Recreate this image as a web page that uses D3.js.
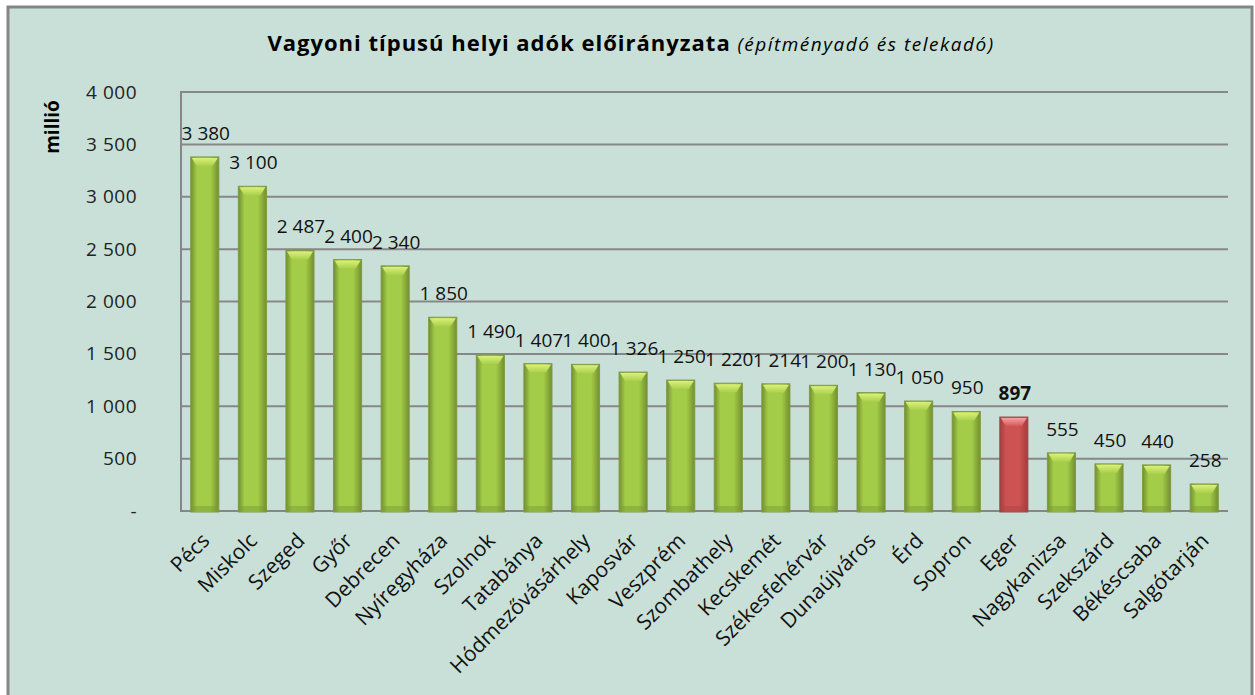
<!DOCTYPE html>
<html>
<head>
<meta charset="utf-8">
<script src="https://cdn.jsdelivr.net/npm/d3@7"></script>
<style>
    body { margin: 0; background: #ffffff; }
    svg { display: block; font-family: "Open Sans", sans-serif; }
</style>
</head>
<body>
<svg width="1255" height="695"></svg>
<script>
// városok és előirányzat (millió Ft)
let cities = ["Pécs", "Miskolc", "Szeged", "Győr", "Debrecen", "Nyíregyháza", "Szolnok", "Tatabánya",
    "Hódmezővásárhely", "Kaposvár", "Veszprém", "Szombathely", "Kecskemét", "Székesfehérvár",
    "Dunaújváros", "Érd", "Sopron", "Eger", "Nagykanizsa", "Szekszárd", "Békéscsaba", "Salgótarján"];
let values = [3380, 3100, 2487, 2400, 2340, 1850, 1490, 1407, 1400, 1326, 1250, 1220, 1214, 1200,
    1130, 1050, 950, 897, 555, 450, 440, 258];
let highlight = ["Eger"]; //kiemelt város (piros oszlop)
let yTicks = [0, 500, 1000, 1500, 2000, 2500, 3000, 3500, 4000];

let svg = d3.select("svg");
let plot = {left: 181, right: 1228, top: 92, bottom: 511};

//ezres tagolás szóközzel, nulla helyett kötőjel
function fmt(v) {
    if (v === 0) return "-";
    return d3.format(",")(v).replace(/,/g, " ");
}

//háttér és keret
svg.append("rect")
    .attr("x", 8).attr("y", 7)
    .attr("width", 1244).attr("height", 700)
    .attr("fill", "#c9e0d8")
    .attr("stroke", "#858585")
    .attr("stroke-width", 3);

let x = d3.scaleBand()
    .domain(cities)
    .range([plot.left, plot.right])
    .paddingInner(0.41)
    .paddingOuter(0.205);

let y = d3.scaleLinear()
    .domain([0, 4000])
    .range([plot.bottom, plot.top]);

//színátmenetek az oszlopokhoz
let defs = svg.append("defs");
function addGrad(id, edge, mid) {
    let g = defs.append("linearGradient").attr("id", id)
        .attr("x1", "0").attr("x2", "1").attr("y1", "0").attr("y2", "0");
    g.append("stop").attr("offset", "0%").attr("stop-color", edge);
    g.append("stop").attr("offset", "22%").attr("stop-color", mid);
    g.append("stop").attr("offset", "70%").attr("stop-color", mid);
    g.append("stop").attr("offset", "100%").attr("stop-color", edge);
}
addGrad("gGreen", "#738f2f", "#a3cc48");
addGrad("gRed", "#a23c3b", "#cc5352");
function addCap(id, light, base) {
    let g = defs.append("linearGradient").attr("id", id)
        .attr("x1", "0").attr("x2", "0").attr("y1", "0").attr("y2", "1");
    g.append("stop").attr("offset", "0%").attr("stop-color", light);
    g.append("stop").attr("offset", "100%").attr("stop-color", base);
}
addCap("cGreen", "#dcf07a", "#a8d04c");
addCap("cRed", "#f5a0a0", "#d05a59");

//rácsvonalak
svg.append("g")
    .selectAll("line")
    .data(yTicks.filter(d => d > 0))
    .enter()
    .append("line")
    .attr("x1", plot.left).attr("x2", plot.right)
    .attr("y1", d => y(d)).attr("y2", d => y(d))
    .attr("stroke", "#878787")
    .attr("stroke-width", 2);

//tengelyvonalak
svg.append("line")
    .attr("x1", plot.left).attr("x2", plot.left)
    .attr("y1", plot.top - 1).attr("y2", plot.bottom + 1)
    .attr("stroke", "#878787").attr("stroke-width", 2);
svg.append("line")
    .attr("x1", plot.left).attr("x2", plot.right)
    .attr("y1", plot.bottom).attr("y2", plot.bottom)
    .attr("stroke", "#878787").attr("stroke-width", 2);

//y tengely feliratai
let yAxis = d3.axisLeft(y).tickValues(yTicks).tickFormat(fmt).tickSize(0).tickPadding(0);
let yG = svg.append("g")
    .attr("transform", "translate(137,0)")
    .call(yAxis);
yG.select(".domain").remove();
yG.selectAll("text")
    .attr("fill", "#222")
    .style("font-size", "19px")
    .style("letter-spacing", "0.5px")
    .style("font-family", "Open Sans, sans-serif");

//oszlopok
let bw = x.bandwidth();
let bars = svg.append("g")
    .selectAll("g")
    .data(cities)
    .enter()
    .append("g")
    .attr("transform", d => "translate(" + x(d) + ",0)");
bars.append("rect")
    .attr("x", 0)
    .attr("y", (d, i) => y(values[i]))
    .attr("width", bw)
    .attr("height", (d, i) => y(0) - y(values[i]) + 1)
    .attr("fill", d => highlight.indexOf(d) >= 0 ? "url(#gRed)" : "url(#gGreen)")
    .attr("stroke", d => highlight.indexOf(d) >= 0 ? "#9a4a4a" : "#7e9a44")
    .attr("stroke-width", 1);
//felső fényes perem
bars.append("path")
    .attr("d", (d, i) => {
        let t = y(values[i]) + 1;
        return "M1," + t + "L" + (bw - 1) + "," + t + "L" + (bw - 6) + "," + (t + 8) +
            "L6," + (t + 8) + "Z";
    })
    .attr("fill", d => highlight.indexOf(d) >= 0 ? "url(#cRed)" : "url(#cGreen)");
//alsó sötétebb sáv
bars.append("rect")
    .attr("x", 2)
    .attr("y", y(0) - 5)
    .attr("width", bw - 4)
    .attr("height", 5)
    .attr("fill", d => highlight.indexOf(d) >= 0 ? "#a84444" : "#789834")
    .attr("opacity", 0.45);

//értékcímkék
svg.append("g")
    .selectAll("text")
    .data(cities)
    .enter()
    .append("text")
    .attr("x", d => x(d) + bw / 2 + 1)
    .attr("y", (d, i) => y(values[i]) - 17)
    .attr("text-anchor", "middle")
    .attr("fill", "#111")
    .style("font-size", "19px")
    .style("font-weight", d => highlight.indexOf(d) >= 0 ? "bold" : "normal")
    .text((d, i) => fmt(values[i]));

//x tengely feliratai, 45 fokban elforgatva
svg.append("g")
    .selectAll("text")
    .data(cities)
    .enter()
    .append("text")
    .attr("transform", d => "translate(" + (x(d) + bw / 2 + 6) + ",542) rotate(-45)")
    .attr("text-anchor", "end")
    .attr("fill", "#111")
    .style("font-size", "21px")
    .text(d => d);

//tengelycím
svg.append("text")
    .attr("transform", "translate(59,127) rotate(-90)")
    .attr("text-anchor", "middle")
    .attr("fill", "#000")
    .style("font-size", "19px")
    .style("font-weight", "bold")
    .text("millió");

//cím
let title = svg.append("text")
    .attr("x", 631)
    .attr("y", 51)
    .attr("text-anchor", "middle")
    .attr("fill", "#000");
title.append("tspan")
    .style("font-size", "22px")
    .style("font-weight", "bold")
    .style("letter-spacing", "1px")
    .text("Vagyoni típusú helyi adók előirányzata ");
title.append("tspan")
    .style("font-size", "19px")
    .style("font-style", "italic")
    .style("letter-spacing", "1.5px")
    .text("(építményadó és telekadó)");
</script>
</body>
</html>
